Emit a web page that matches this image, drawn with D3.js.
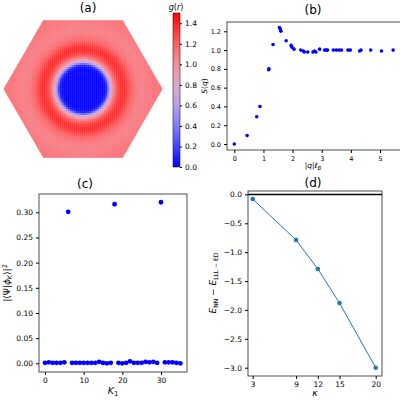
<!DOCTYPE html>
<html><head><meta charset="utf-8">
<script src="https://cdn.jsdelivr.net/npm/d3@7"></script>
<style>body{margin:0;background:#fff}text{font-family:"DejaVu Sans",sans-serif;fill:#000}</style>
</head><body><svg id="c" width="400" height="400"></svg>
<script>
// (a) radial profile of g(r), radius in panel pixels
const gRadius = [0, 20, 22, 24, 26, 28, 30, 32, 35, 38, 41, 44, 47, 50, 55, 60, 70, 80];
const gValue  = [0.02, 0.02, 0.05, 0.15, 0.5, 0.8, 1.0, 1.15, 1.28, 1.35, 1.36, 1.3, 1.22, 1.16, 1.1, 1.08, 1.12, 1.14];
const cbTicks = [0, 0.2, 0.4, 0.6, 0.8, 1.0, 1.2, 1.4];

// (b) structure factor
const qVals = [0,0.44,0.77,0.88,1.18,1.19,1.33,1.55,1.58,1.6,1.78,1.95,1.98,2.05,2.28,2.37,2.4,2.52,2.7,2.75,2.8,2.93,3.1,3.15,3.2,3.4,3.5,3.6,3.68,3.9,3.98,4.3,4.35,4.68,5.05,5.45];
const sVals = [0,0.09,0.29,0.40,0.79,0.80,1.06,1.24,1.22,1.20,1.10,1.05,1.03,1.01,1.0,0.99,0.98,0.98,0.98,0.99,0.98,1.01,1.0,1.0,1.0,1.0,1.0,1.0,1.0,1.0,1.0,0.99,1.0,1.0,0.99,1.0];

// (c) overlaps vs K1
const kVals = d3.range(0, 36);
const overlap = [0.001,0.002,0.001,0.001,0.001,0.002,0.301,0.001,0.001,0.001,0.001,0.001,0.001,0.001,0.003,0.001,0.0,0.001,0.316,0.001,0.0,0.001,0.004,0.001,0.001,0.001,0.003,0.002,0.003,0.001,0.320,0.002,0.002,0.002,0.001,0.0];

// (d) energy difference
const kappa = [3, 9, 12, 15, 20];
const dE = [-0.08, -0.79, -1.29, -1.88, -3.0];

const svg = d3.select('#c');
const bwr = d3.interpolateRgbBasis(['#0000ff', '#ffffff', '#ff0000']);
const cScale = d3.scaleLinear().domain([0, 1.5]).range([0, 1]).clamp(true);

function axesFrame(g, x0, x1, y0, y1) {
  g.append('rect').attr('x', x0).attr('y', y0).attr('width', x1 - x0).attr('height', y1 - y0)
    .attr('fill', 'none').attr('stroke', '#222').attr('stroke-width', 0.8);
}
function title(t, x, y) {
  svg.append('text').attr('x', x).attr('y', y).attr('text-anchor', 'middle').attr('font-size', 12).text(t);
}

// ---------- (a)
const cx = 83, cy = 89, R = 79.5;
const prof = d3.scaleLinear().domain(gRadius).range(gValue).clamp(true);
const hex = d3.range(6).map(i => [cx + R * Math.cos(i * Math.PI / 3), cy + R * Math.sin(i * Math.PI / 3)]);
svg.append('clipPath').attr('id', 'hx').append('polygon').attr('points', hex.map(p => p.join(',')).join(' '));
const cells = [];
const step = 2;
for (let y = cy - 70; y < cy + 70; y += step)
  for (let x = cx - R; x < cx + R; x += step) cells.push([x, y]);
svg.append('g').attr('clip-path', 'url(#hx)').selectAll('rect').data(cells).join('rect')
  .attr('x', d => d[0]).attr('y', d => d[1]).attr('width', step + 0.3).attr('height', step + 0.3)
  .attr('fill', d => bwr(cScale(prof(Math.hypot(d[0] + 1 - cx, d[1] + 1 - cy)))));
title('(a)', 88, 12);
// colorbar
const cbY = d3.scaleLinear().domain([0, 1.5]).range([167, 13]);
const grad = svg.append('defs').append('linearGradient').attr('id', 'cb').attr('x1', 0).attr('y1', 1).attr('x2', 0).attr('y2', 0);
d3.range(0, 1.01, 0.1).forEach(t => grad.append('stop').attr('offset', t).attr('stop-color', bwr(t)));
svg.append('rect').attr('x', 173).attr('y', 13).attr('width', 7).attr('height', 154).attr('fill', 'url(#cb)').attr('stroke', '#222').attr('stroke-width', 0.6);
svg.append('g').attr('transform', 'translate(180,0)').call(d3.axisRight(cbY).tickValues(cbTicks).tickFormat(d3.format('.1f')).tickSize(2))
  .call(g => { g.select('.domain').remove(); g.selectAll('text').attr('font-size', 7.5); });
svg.append('text').attr('x', 176).attr('y', 10).attr('text-anchor', 'middle').attr('font-size', 8).html('<tspan font-style="italic">g</tspan>(<tspan font-style="italic">r</tspan>)');

// ---------- (b)
const xb = d3.scaleLinear().domain([0, 5]).range([234.3, 380]);
const yb = d3.scaleLinear().domain([0, 1.2]).range([144, 31.3]);
const gb = svg.append('g');
axesFrame(gb, 227, 402, 22, 150);
gb.append('g').attr('transform', 'translate(0,150)').call(d3.axisBottom(xb).ticks(5).tickSize(3))
  .call(g => { g.select('.domain').remove(); g.selectAll('text').attr('font-size', 6.5); });
gb.append('g').attr('transform', 'translate(227,0)').call(d3.axisLeft(yb).tickValues(d3.range(0, 1.21, 0.2)).tickFormat(d3.format('.1f')).tickSize(3))
  .call(g => { g.select('.domain').remove(); g.selectAll('text').attr('font-size', 6.5); });
gb.selectAll('circle').data(qVals).join('circle').attr('cx', d => xb(d)).attr('cy', (d, i) => yb(sVals[i])).attr('r', 1.8).attr('fill', '#0000ff');
title('(b)', 313, 14);
svg.append('text').attr('x', 313).attr('y', 168).attr('text-anchor', 'middle').attr('font-size', 7.5).html('|<tspan font-style="italic">q</tspan>|<tspan font-style="italic">ℓ</tspan><tspan font-size="5.5" dy="2"><tspan font-style="italic">B</tspan></tspan>');
svg.append('text').attr('transform', 'translate(207,86) rotate(-90)').attr('text-anchor', 'middle').attr('font-size', 7.5).html('<tspan font-style="italic">S</tspan>(<tspan font-style="italic">q</tspan>)');

// ---------- (c)
const xc = d3.scaleLinear().domain([0, 30]).range([45, 161]);
const yc = d3.scaleLinear().domain([0, 0.3]).range([363.3, 212.3]);
const gc = svg.append('g');
axesFrame(gc, 39, 187, 194, 372);
gc.append('g').attr('transform', 'translate(0,372)').call(d3.axisBottom(xc).tickValues([0, 10, 20, 30]).tickSize(3))
  .call(g => { g.select('.domain').remove(); g.selectAll('text').attr('font-size', 7.5); });
gc.append('g').attr('transform', 'translate(39,0)').call(d3.axisLeft(yc).tickValues(d3.range(0, 0.301, 0.05)).tickFormat(d3.format('.2f')).tickSize(3))
  .call(g => { g.select('.domain').remove(); g.selectAll('text').attr('font-size', 7.5); });
gc.selectAll('circle').data(kVals).join('circle').attr('cx', d => xc(d)).attr('cy', (d, i) => yc(overlap[i])).attr('r', 2.4).attr('fill', '#0000ff');
title('(c)', 85, 188);
svg.append('text').attr('x', 113).attr('y', 394).attr('text-anchor', 'middle').attr('font-size', 9.5).html('<tspan font-style="italic">K</tspan><tspan font-size="7" dy="2">1</tspan>');
svg.append('text').attr('transform', 'translate(10,283) rotate(-90)').attr('text-anchor', 'middle').attr('font-size', 9).html('|⟨Ψ|<tspan font-style="italic">ϕ</tspan><tspan font-size="6.5" dy="2"><tspan font-style="italic">K</tspan></tspan><tspan dy="-2">⟩|</tspan><tspan font-size="6.5" dy="-3">2</tspan>');

// ---------- (d)
const xd = d3.scaleLinear().domain([3, 20]).range([252.7, 375.7]);
const yd = d3.scaleLinear().domain([-3, -0.5]).range([367.7, 223.3]);
const gd = svg.append('g');
axesFrame(gd, 248, 382, 191, 376);
gd.append('line').attr('x1', 248).attr('x2', 382).attr('y1', yd(0)).attr('y2', yd(0)).attr('stroke', '#000').attr('stroke-width', 1.5);
gd.append('g').attr('transform', 'translate(0,376)').call(d3.axisBottom(xd).tickValues(kappa).tickSize(3))
  .call(g => { g.select('.domain').remove(); g.selectAll('text').attr('font-size', 7.5); });
gd.append('g').attr('transform', 'translate(248,0)').call(d3.axisLeft(yd).tickValues([-3, -2.5, -2, -1.5, -1, -0.5, 0]).tickFormat(d => d3.format('.1f')(d).replace('-', '−')).tickSize(3))
  .call(g => { g.select('.domain').remove(); g.selectAll('text').attr('font-size', 7.5); });
gd.append('path').datum(kappa).attr('fill', 'none').attr('stroke', '#1f77b4').attr('stroke-width', 1)
  .attr('d', d3.line().x(d => xd(d)).y((d, i) => yd(dE[i])));
gd.selectAll('circle').data(kappa).join('circle').attr('cx', d => xd(d)).attr('cy', (d, i) => yd(dE[i])).attr('r', 2.3).attr('fill', '#1f77b4');
title('(d)', 313, 187);
svg.append('text').attr('x', 315).attr('y', 396).attr('text-anchor', 'middle').attr('font-size', 9).attr('font-style', 'italic').text('κ');
svg.append('text').attr('transform', 'translate(216,283) rotate(-90)').attr('text-anchor', 'middle').attr('font-size', 9)
  .html('<tspan font-style="italic">E</tspan><tspan font-size="6" dy="2">NN</tspan><tspan dy="-2"> − </tspan><tspan font-style="italic">E</tspan><tspan font-size="6" dy="2">LLL − ED</tspan>');
</script></body></html>
